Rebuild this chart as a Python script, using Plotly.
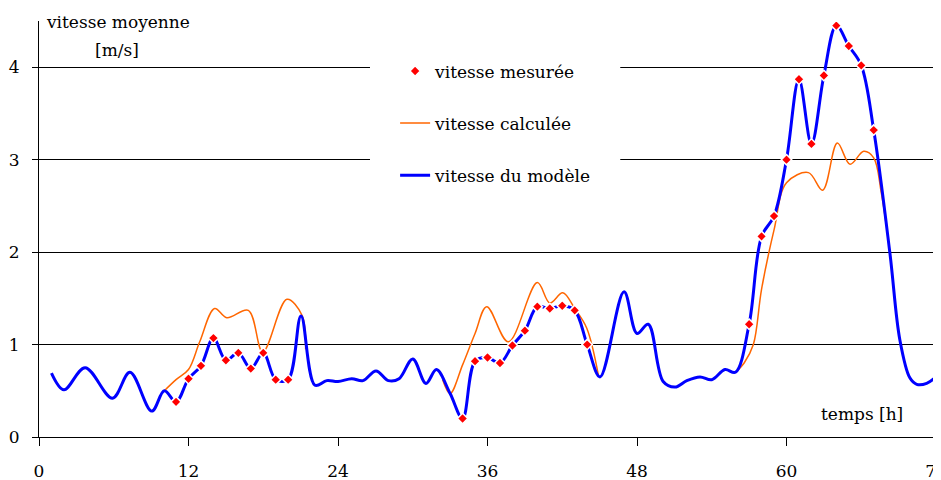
import plotly.graph_objects as go

# --- data ---
model_t = [1, 2, 3.7, 5.9, 7.3, 9.05, 10.06, 11, 12, 13, 14, 15, 16, 17, 18, 19, 20, 21.03, 22.15,
           23.1, 24, 25.1, 26, 27.05, 28.04, 28.9, 30, 31.06, 31.9, 33, 34, 35, 36, 37, 38, 39, 40,
           41, 42, 43, 44, 45.03, 46.96, 48, 48.9, 50.1, 51.05, 52, 53.06, 54, 55.06, 55.9, 57, 58,
           59, 60, 61, 62, 63, 64, 65, 66, 67, 68.3, 69.1, 69.9, 70.45, 71.25, 72]
model_v = [0.69, 0.51, 0.75, 0.42, 0.70, 0.28, 0.50, 0.38, 0.63, 0.77, 1.07, 0.83, 0.91, 0.74, 0.91,
           0.62, 0.62, 1.31, 0.56, 0.61, 0.60, 0.63, 0.61, 0.715, 0.61, 0.63, 0.845, 0.58, 0.73, 0.47,
           0.20, 0.82, 0.86, 0.80, 0.99, 1.15, 1.41, 1.39, 1.42, 1.37, 1.00, 0.65, 1.57, 1.12, 1.22,
           0.60, 0.54, 0.61, 0.65, 0.62, 0.73, 0.70, 1.22, 2.17, 2.39, 3.00, 3.87, 3.17, 3.91, 4.45,
           4.23, 4.02, 3.32, 1.99, 1.05, 0.64, 0.57, 0.58, 0.65]

calc_t = [10.06, 11, 12, 12.9, 14.1, 15.07, 16.8, 17.96, 19.9, 21.1, 21.4, None,
          32.4, 33.0, 34.0, 35.0, 35.94, 37.67, 40.0, 41.0, 42.04, 43.0, 43.96, 44.9, None,
          56.0, 56.6, 57.34, 58.0, 59.0, 60.0, 61.76, 62.9, 64.08, 65.1, 66.2, 67.0, 67.6, 68.0]
calc_v = [0.50, 0.62, 0.73, 1.03, 1.39, 1.29, 1.37, 0.92, 1.49, 1.32, 0.95, None,
          0.62, 0.47, 0.78, 1.12, 1.41, 1.03, 1.67, 1.45, 1.56, 1.39, 1.18, 0.67, None,
          0.71, 0.80, 1.00, 1.60, 2.24, 2.75, 2.86, 2.67, 3.18, 2.95, 3.09, 3.02, 2.65, 2.30]

meas_t = [11, 12, 13, 14, 15, 16, 17, 18, 19, 20,
          34, 35, 36, 37, 38, 39, 40, 41, 42, 43, 44,
          57, 58, 59, 60, 61, 62, 63, 64, 65, 66, 67]
meas_v = [0.38, 0.63, 0.77, 1.07, 0.83, 0.91, 0.74, 0.91, 0.62, 0.62,
          0.20, 0.82, 0.86, 0.80, 0.99, 1.15, 1.41, 1.39, 1.42, 1.37, 1.00,
          1.22, 2.17, 2.39, 3.00, 3.87, 3.17, 3.91, 4.45, 4.23, 4.02, 3.32]

x_ticks = [0, 12, 24, 36, 48, 60, 72]
y_ticks = [0, 1, 2, 3, 4]

FONT = "DejaVu Serif"
FS = 17

fig = go.Figure()
fig.add_trace(go.Scatter(x=calc_t, y=calc_v, mode="lines", name="vitesse calculée",
                         line=dict(color="#FF6600", width=1.5, shape="spline"),
                         connectgaps=False, legendgroup="b", legendrank=2))
fig.add_trace(go.Scatter(x=model_t, y=model_v, mode="lines", name="vitesse du modèle",
                         line=dict(color="#0000FF", width=3, shape="spline"),
                         legendgroup="c", legendrank=3))
fig.add_trace(go.Scatter(x=meas_t, y=meas_v, mode="markers", name="vitesse mesurée",
                         marker=dict(symbol="diamond", color="#FF0000", size=8,
                                     line=dict(color="white", width=1.5)),
                         legendgroup="a", legendrank=1))

fig.update_layout(
    width=933, height=472,
    margin=dict(l=31, r=5, t=13, b=43),
    paper_bgcolor="white", plot_bgcolor="white",
    font=dict(family=FONT, size=FS, color="black"),
    showlegend=True,
    legend=dict(x=0.397, y=0.922, xanchor="left", yanchor="top",
                bgcolor="rgba(0,0,0,0)", tracegroupgap=27,
                font=dict(family=FONT, size=FS, color="black")),
    xaxis=dict(range=[0, 72], tickvals=x_ticks, ticks="outside", ticklen=8,
               tickcolor="black", showgrid=False, zeroline=False, automargin=False,
               showline=True, linecolor="black", linewidth=1,
               ticklabeloverflow="allow",
               ticklabelstandoff=11, tickfont=dict(family=FONT, size=FS)),
    yaxis=dict(range=[0, 4.5], tickvals=y_ticks, ticks="outside", ticklen=6,
               tickcolor="black", showgrid=True, gridcolor="black", gridwidth=1,
               zeroline=False, showline=True, linecolor="black", linewidth=1,
               automargin=False,
               ticklabelstandoff=9, tickfont=dict(family=FONT, size=FS)),
    shapes=[dict(type="rect", xref="paper", yref="y", x0=0.369, x1=0.648, y0=2.6, y1=4.3,
                 fillcolor="white", line=dict(width=0), layer="above")],
    annotations=[
        dict(text="vitesse moyenne", xref="paper", yref="paper", x=0.088, y=0.997,
             xanchor="center", yanchor="middle", showarrow=False,
             font=dict(family=FONT, size=FS)),
        dict(text="[m/s]", xref="paper", yref="paper", x=0.087, y=0.930,
             xanchor="center", yanchor="middle", showarrow=False,
             font=dict(family=FONT, size=FS)),
        dict(text="temps [h]", xref="paper", yref="paper", x=0.9175, y=0.055,
             xanchor="center", yanchor="middle", showarrow=False,
             font=dict(family=FONT, size=FS)),
    ],
)

fig.write_html("out.html")
